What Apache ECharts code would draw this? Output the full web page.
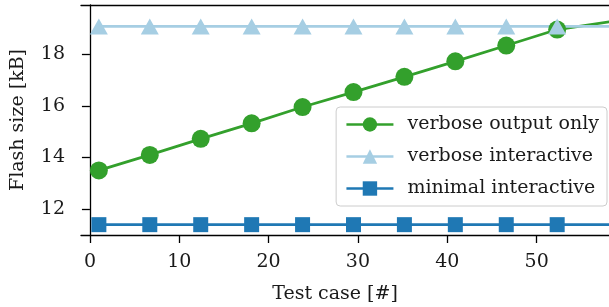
<!DOCTYPE html>
<html>
<head>
<meta charset="utf-8">
<script src="https://cdn.jsdelivr.net/npm/echarts@6/dist/echarts.min.js"></script>
<style>
  html, body { margin: 0; padding: 0; background: #fff; }
  #container { width: 609px; height: 307px; }
</style>
</head>
<body>
<div id="container"></div>
<script>
// test case numbers (x)
var testCases = [1, 6.7, 12.4, 18.1, 23.8, 29.5, 35.2, 40.9, 46.6, 52.3, 60];
// flash size in kB
var verboseOutputOnly = [13.5, 14.1, 14.72, 15.32, 15.95, 16.53, 17.12, 17.72, 18.33, 18.95, 19.35];
var verboseInteractive = [19.07, 19.07, 19.07, 19.07, 19.07, 19.07, 19.07, 19.07, 19.07, 19.07, 19.07];
var minimalInteractive = [11.4, 11.4, 11.4, 11.4, 11.4, 11.4, 11.4, 11.4, 11.4, 11.4, 11.4];
var xTicks = [0, 10, 20, 30, 40, 50];
var yTicks = [12, 14, 16, 18];

function pairs(ys) {
  return testCases.map(function (x, i) { return [x, ys[i]]; });
}

var font = "DejaVu Serif";
var fs = 19;
var chart = echarts.init(document.getElementById("container"));

var option = {
  animation: false,
  textStyle: { fontFamily: font },
  grid: { left: 81, right: 0, top: 5, bottom: 72, containLabel: false, outerBoundsMode: "none" },
  legend: {
    orient: "vertical",
    right: 2,
    top: 107,
    itemWidth: 47,
    itemHeight: 18,
    itemGap: 13,
    padding: [8, 8, 8, 9],
    backgroundColor: "rgba(255,255,255,0.8)",
    borderColor: "#cccccc",
    borderWidth: 1,
    borderRadius: 4,
    lineStyle: { width: 2.6 },
    textStyle: { fontFamily: font, fontSize: fs, color: "#1a1a1a", padding: [0, 0, 0, 9] },
    data: ["verbose output only", "verbose interactive", "minimal interactive"]
  },
  xAxis: [
    {
      type: "value",
      min: -1,
      max: 58.1,
      name: "Test case [#]",
      nameLocation: "middle",
      nameGap: 50,
      nameTextStyle: { fontFamily: font, fontSize: fs, color: "#1a1a1a", padding: [0, 20, 0, 0] },
      axisLine: { lineStyle: { color: "#000", width: 1.3 } },
      axisTick: { customValues: xTicks, length: 8, lineStyle: { color: "#000", width: 1.3 } },
      axisLabel: { customValues: xTicks, margin: 18, fontFamily: font, fontSize: fs, color: "#1a1a1a" },
      splitLine: { show: false }
    },
    {
      type: "value",
      position: "top",
      min: -1,
      max: 58.1,
      axisLine: { show: true, lineStyle: { color: "#000", width: 1.3 } },
      axisTick: { show: false },
      axisLabel: { show: false },
      splitLine: { show: false }
    }
  ],
  yAxis: {
    type: "value",
    min: 11,
    max: 19.9,
    name: "Flash size [kB]",
    nameLocation: "middle",
    nameGap: 53,
    nameTextStyle: { fontFamily: font, fontSize: fs, color: "#1a1a1a" },
    axisLine: { show: true, lineStyle: { color: "#000", width: 1.3 } },
    axisTick: { show: true, customValues: yTicks, length: 8, lineStyle: { color: "#000", width: 1.3 } },
    axisLabel: { customValues: yTicks, margin: 16, fontFamily: font, fontSize: fs, color: "#1a1a1a" },
    splitLine: { show: false }
  },
  series: [
    {
      name: "verbose output only",
      type: "line",
      data: pairs(verboseOutputOnly),
      symbol: "circle",
      symbolSize: 18,
      clip: true,
      color: "#33a02c",
      lineStyle: { width: 2.7 },
      itemStyle: { color: "#33a02c" }
    },
    {
      name: "verbose interactive",
      type: "line",
      data: pairs(verboseInteractive),
      symbol: "triangle",
      symbolSize: [18, 16],
      clip: true,
      color: "#a6cee3",
      lineStyle: { width: 2.7 },
      itemStyle: { color: "#a6cee3" }
    },
    {
      name: "minimal interactive",
      type: "line",
      data: pairs(minimalInteractive),
      symbol: "rect",
      symbolSize: 15,
      clip: true,
      color: "#1f78b4",
      lineStyle: { width: 2.7 },
      itemStyle: { color: "#1f78b4" }
    }
  ]
};

chart.setOption(option);
</script>
</body>
</html>
